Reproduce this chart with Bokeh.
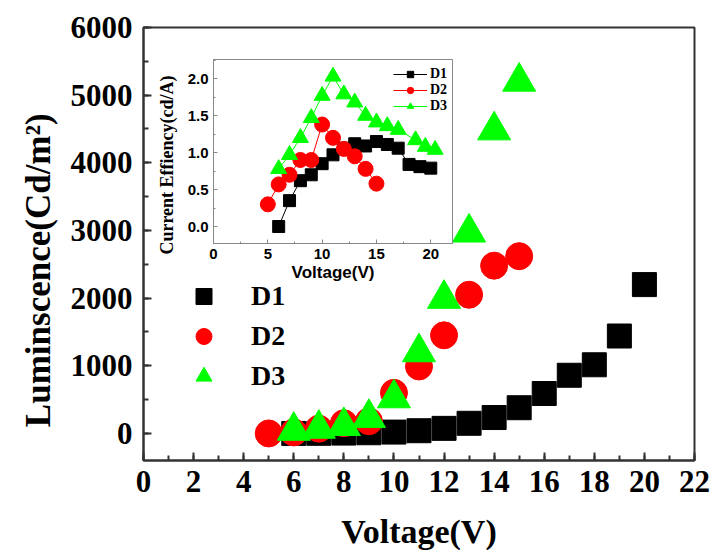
from bokeh.plotting import figure
from bokeh.models import (Legend, LegendItem, SingleIntervalTicker, Range1d, PrintfTickFormatter)
from bokeh.embed import file_html
from bokeh.resources import INLINE

# ---------------- data ----------------
# Main plot: Luminescence (Cd/m^2) vs Voltage (V)
d1_v = [6, 7, 8, 9, 10, 11, 12, 13, 14, 15, 16, 17, 18, 19, 20]
d1_lum = [0, 2, 5, 10, 20, 40, 75, 150, 235, 380, 590, 860, 1015, 1440, 2200]
d2_v = [5, 6, 7, 8, 9, 10, 11, 12, 13, 14, 15]
d2_lum = [0, 15, 70, 150, 180, 600, 990, 1450, 2050, 2480, 2620]
d3_v = [6, 7, 8, 9, 10, 11, 12, 13, 14, 15]
d3_lum = [40, 70, 110, 230, 520, 1200, 1990, 2970, 4480, 5200]

# Inset: Current efficiency (cd/A) vs Voltage (V)
ce1_v = [6, 7, 8, 9, 10, 11, 12, 13, 14, 15, 16, 17, 18, 19, 20]
ce1 = [0.0, 0.35, 0.62, 0.70, 0.85, 0.97, 1.06, 1.12, 1.09, 1.15, 1.11, 1.06, 0.84, 0.81, 0.79]
ce2_v = [5, 6, 7, 8, 9, 10, 11, 12, 13, 14, 15]
ce2 = [0.30, 0.57, 0.70, 0.90, 0.90, 1.38, 1.20, 1.05, 0.95, 0.78, 0.58]
ce3_v = [6, 7, 8, 9, 10, 11, 12, 13, 14, 15, 16, 17, 18.6, 19.5, 20.4]
ce3 = [0.78, 0.97, 1.20, 1.47, 1.77, 2.03, 1.79, 1.68, 1.50, 1.41, 1.36, 1.31, 1.17, 1.08, 1.04]

labels = ["D1", "D2", "D3"]
colors = ["#000000", "#ff0000", "#00ff00"]

SERIF = "Liberation Serif"
SANS = "Liberation Sans"
NBSP = "\u00a0"

# ---------------- main figure ----------------
p = figure(width=713, height=552, x_range=Range1d(0, 22), y_range=Range1d(-400, 6000),
           output_backend="svg", toolbar_location=None,
           min_border_left=143, min_border_right=19, min_border_top=27, min_border_bottom=92)
p.grid.visible = False
p.outline_line_color = "#333333"
p.outline_line_width = 2
p.background_fill_color = "white"

p.xaxis.ticker = SingleIntervalTicker(interval=2, num_minor_ticks=2)
p.yaxis.ticker = SingleIntervalTicker(interval=1000, num_minor_ticks=2)
for ax in (p.xaxis[0], p.yaxis[0]):
    ax.axis_line_color = "#333333"
    ax.axis_line_width = 2
    ax.major_tick_line_color = "#333333"
    ax.minor_tick_line_color = "#333333"
    ax.major_tick_line_width = 2
    ax.minor_tick_line_width = 2
    ax.major_tick_in = 8
    ax.major_tick_out = 0
    ax.minor_tick_in = 5
    ax.minor_tick_out = 0
    ax.major_label_text_font = SERIF
    ax.major_label_text_font_style = "bold"
    ax.major_label_text_font_size = "31px"
    ax.major_label_text_color = "black"
    ax.axis_label_text_font = SERIF
    ax.axis_label_text_font_style = "bold"
    ax.axis_label_text_color = "black"
    ax.axis_label_text_font_size = "35px"
p.xaxis.major_label_standoff = 10
p.yaxis.major_label_standoff = 11
p.xaxis.axis_label = "Voltage(V)"
p.xaxis.axis_label_text_font_size = "34px"
p.xaxis.axis_label_standoff = 18
p.yaxis.axis_label = "Luminscence(Cd/m\u00b2)" + NBSP * 6
p.yaxis.axis_label_standoff = 10

r1 = p.scatter(d1_v, d1_lum, marker="square", size=24, color=colors[0])
r2 = p.scatter(d2_v, d2_lum, marker="circle", size=27, color=colors[1])
r3 = p.scatter(d3_v, d3_lum, marker="triangle", size=33, color=colors[2])

leg = Legend(items=[LegendItem(label=labels[0], renderers=[r1]),
                    LegendItem(label=labels[1], renderers=[r2]),
                    LegendItem(label=labels[2], renderers=[r3])],
             location=(38, 64), glyph_width=45, glyph_height=40, spacing=0,
             label_standoff=25, padding=0, margin=0,
             border_line_alpha=0, background_fill_alpha=0,
             label_text_font=SERIF, label_text_font_style="bold",
             label_text_font_size="28px", label_text_color="black")
p.add_layout(leg)

# ---------------- inset figure ----------------
q = figure(width=310, height=253, x_range=Range1d(0, 22), y_range=Range1d(-0.23, 2.26),
           output_backend="svg", toolbar_location=None,
           min_border_left=63, min_border_right=8, min_border_top=19, min_border_bottom=50)
q.grid.visible = False
q.outline_line_color = "#888888"
q.outline_line_width = 1
q.background_fill_color = "white"
q.border_fill_color = None
q.border_fill_alpha = 0

q.xaxis.ticker = SingleIntervalTicker(interval=5, num_minor_ticks=2)
q.yaxis.ticker = SingleIntervalTicker(interval=0.5, num_minor_ticks=2)
q.yaxis.formatter = PrintfTickFormatter(format="%.1f")
for ax in (q.xaxis[0], q.yaxis[0]):
    ax.axis_line_color = "#888888"
    ax.major_tick_line_color = "#888888"
    ax.minor_tick_line_color = "#888888"
    ax.major_tick_in = 4
    ax.major_tick_out = 0
    ax.minor_tick_in = 2
    ax.minor_tick_out = 0
    ax.major_label_text_font = SANS
    ax.major_label_text_font_style = "bold"
    ax.major_label_text_font_size = "15px"
    ax.major_label_text_color = "black"
    ax.axis_label_text_color = "black"
    ax.axis_label_text_font_style = "bold"
q.xaxis.major_label_standoff = 5
q.yaxis.major_label_standoff = 5
q.xaxis.axis_label = "Voltage(V)"
q.xaxis.axis_label_text_font = SANS
q.xaxis.axis_label_text_font_size = "17px"
q.xaxis.axis_label_standoff = 1
q.yaxis.axis_label = "Current Effiency(cd/A)" + NBSP * 6
q.yaxis.axis_label_text_font = SERIF
q.yaxis.axis_label_text_font_size = "18px"
q.yaxis.axis_label_standoff = 8

l1 = q.line(ce1_v, ce1, color=colors[0], line_width=1)
s1 = q.scatter(ce1_v, ce1, marker="square", size=12, color=colors[0])
l2 = q.line(ce2_v, ce2, color=colors[1], line_width=1)
s2 = q.scatter(ce2_v, ce2, marker="circle", size=15, color=colors[1])
l3 = q.line(ce3_v, ce3, color=colors[2], line_width=1)
s3 = q.scatter(ce3_v, ce3, marker="triangle", size=16, color=colors[2])

leg2 = Legend(items=[LegendItem(label=labels[0], renderers=[l1, s1]),
                     LegendItem(label=labels[1], renderers=[l2, s2]),
                     LegendItem(label=labels[2], renderers=[l3, s3])],
              location=(180, 129), glyph_width=34, glyph_height=16, spacing=0,
              label_standoff=3, padding=0, margin=0, label_height=16,
              border_line_alpha=0, background_fill_alpha=0,
              label_text_font=SERIF, label_text_font_style="bold",
              label_text_font_size="14px", label_text_color="black")
q.add_layout(leg2)

# place the inset over the main plot
q.styles = {"position": "absolute", "left": "150px", "top": "40px", "z-index": "10"}

open("out.html", "w").write(file_html([p, q], INLINE))
